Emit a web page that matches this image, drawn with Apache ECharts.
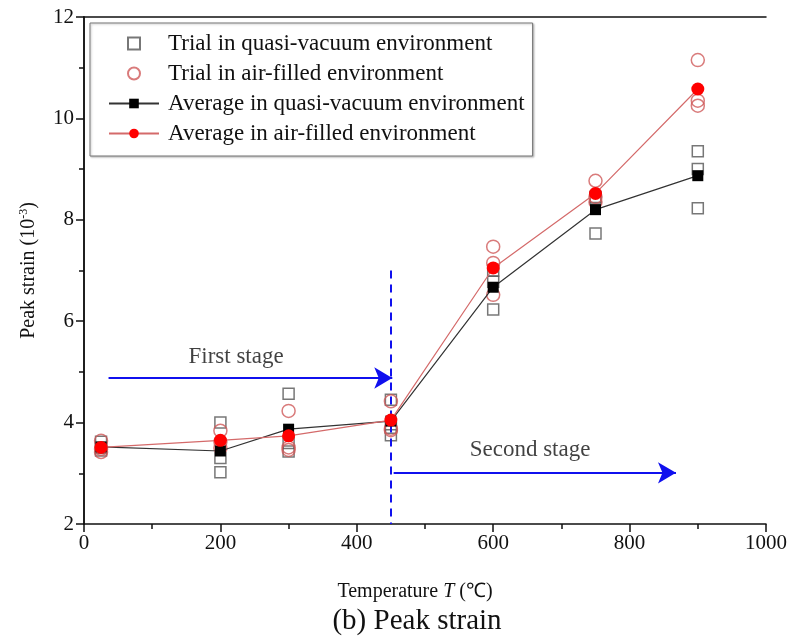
<!DOCTYPE html>
<html>
<head>
<meta charset="utf-8">
<script src="https://cdn.jsdelivr.net/npm/echarts@6/dist/echarts.min.js"></script>
<style>
  html, body { margin: 0; padding: 0; background: #fff; }
  #main { width: 788px; height: 638px; }
</style>
</head>
<body>
<div id="main"></div>
<script>
// temperatures (℃)
const temps = [25, 200, 300, 450, 600, 750, 900];

// three trials per temperature, peak strain (10^-3)
const vacuumTrials = [
  [3.62, 3.50, 3.45],
  [4.00, 3.30, 3.02],
  [4.57, 3.60, 3.43],
  [4.45, 3.90, 3.75],
  [6.23, 6.78, 7.00],
  [7.73, 8.42, 8.45],
  [9.35, 9.00, 8.23]
];
const airTrials = [
  [3.64, 3.48, 3.42],
  [3.84, 3.62, 3.50],
  [4.23, 3.51, 3.46],
  [4.42, 3.88, 3.85],
  [7.47, 7.15, 6.52],
  [8.77, 8.45, 8.35],
  [11.15, 10.35, 10.25]
];
const vacuumAvg = [3.52, 3.44, 3.87, 4.03, 6.67, 8.20, 8.87];
const airAvg = [3.51, 3.65, 3.74, 4.05, 7.05, 8.52, 10.58];

const seriesNames = [
  'Trial in quasi-vacuum environment',
  'Trial in air-filled environment',
  'Average in quasi-vacuum environment',
  'Average in air-filled environment'
];

// stage annotations
const stageLabels = ['First stage', 'Second stage'];
const stageLabelPos = [[223, 5.30], [654, 3.46]];
const stageArrows = [[[36, 4.88], [452, 4.88]], [[454, 3.01], [868, 3.01]]];
const stageDivider = [[450, 7.0], [450, 2.0]];

const serif = 'Liberation Serif';
const blue = '#1010ee';
const squareIcon = 'path://M0,0L10,0L10,10L0,10Z';

function trialPoints(trials) {
  let pts = [];
  trials.forEach((row, i) => {
    row.forEach(v => pts.push([temps[i], v]));
  });
  return pts;
}

function pairs(values) {
  return values.map((v, i) => [temps[i], v]);
}

let myChart = echarts.init(document.getElementById('main'));

let option = {
  animation: false,
  title: {
    text: '(b) Peak strain',
    left: 412,
    bottom: -3,
    textAlign: 'center',
    textStyle: { fontFamily: serif, fontSize: 29, fontWeight: 'normal', color: '#111' }
  },
  legend: {
    data: [
      { name: seriesNames[0], icon: squareIcon },
      { name: seriesNames[1] },
      { name: seriesNames[2] },
      { name: seriesNames[3] }
    ],
    orient: 'vertical',
    left: 90,
    top: 23,
    padding: [9, 8, 11, 18],
    itemWidth: 50,
    itemHeight: 12,
    itemGap: 7,
    symbolKeepAspect: true,
    borderColor: '#777',
    borderWidth: 1,
    shadowColor: 'rgba(0,0,0,0.25)',
    shadowBlur: 2,
    shadowOffsetX: 1,
    shadowOffsetY: 1,
    backgroundColor: '#fff',
    textStyle: { fontFamily: serif, fontSize: 23, color: '#111', padding: [0, 0, 0, 4] }
  },
  grid: { left: 84, right: 22, top: 17, bottom: 114, outerBoundsMode: 'none' },
  xAxis: [{
    type: 'value',
    min: 0,
    max: 1000,
    interval: 200,
    name: 'Temperature {i|T} (℃)',
    nameLocation: 'middle',
    nameGap: 58,
    nameTextStyle: {
      fontFamily: serif, fontSize: 20, color: '#111', padding: [0, 20, 0, 0],
      rich: { i: { fontFamily: serif, fontSize: 20, fontStyle: 'italic', color: '#111' } }
    },
    axisLine: { lineStyle: { color: '#111', width: 1.5 } },
    axisTick: { length: 8, lineStyle: { color: '#111', width: 1.5 } },
    minorTick: { show: true, splitNumber: 2, length: 5, lineStyle: { color: '#111', width: 1.5 } },
    splitLine: { show: false },
    axisLabel: { fontFamily: serif, fontSize: 21, color: '#111', margin: 9, formatter: v => String(v) }
  }, {
    type: 'value',
    position: 'top',
    min: 0,
    max: 1000,
    axisLine: { show: true, lineStyle: { color: '#111', width: 1.5 } },
    axisTick: { show: false },
    axisLabel: { show: false },
    splitLine: { show: false }
  }],
  yAxis: [{
    type: 'value',
    min: 2,
    max: 12,
    interval: 2,
    name: 'Peak strain ({n|10}{s|-3})',
    nameLocation: 'middle',
    nameGap: 44,
    nameTextStyle: {
      fontFamily: serif, fontSize: 20, color: '#111',
      rich: {
        n: { fontFamily: serif, fontSize: 20, color: '#111' },
        s: { fontFamily: serif, fontSize: 12, color: '#111', verticalAlign: 'top', padding: [0, 0, 10, 0] }
      }
    },
    axisLine: { show: true, lineStyle: { color: '#111', width: 1.5 } },
    axisTick: { show: true, length: 8, lineStyle: { color: '#111', width: 1.5 } },
    minorTick: { show: true, splitNumber: 2, length: 5, lineStyle: { color: '#111', width: 1.5 } },
    splitLine: { show: false },
    axisLabel: { fontFamily: serif, fontSize: 21, color: '#111', margin: 10 }
  }, {
    type: 'value',
    position: 'right',
    min: 2,
    max: 12,
    axisLine: { show: true, lineStyle: { color: '#111', width: 1.5 } },
    axisTick: { show: false },
    axisLabel: { show: false },
    splitLine: { show: false }
  }],
  series: [{
    name: seriesNames[0],
    type: 'scatter',
    symbol: 'rect',
    symbolSize: 11,
    z: 3,
    itemStyle: { color: 'rgba(0,0,0,0)', borderColor: '#555', borderWidth: 1.5 },
    data: trialPoints(vacuumTrials)
  }, {
    name: seriesNames[1],
    type: 'scatter',
    symbol: 'circle',
    symbolSize: 13,
    z: 4,
    itemStyle: { color: 'rgba(0,0,0,0)', borderColor: '#d05a5a', borderWidth: 1.5 },
    data: trialPoints(airTrials)
  }, {
    name: seriesNames[2],
    type: 'line',
    symbol: 'rect',
    symbolSize: 11,
    z: 5,
    lineStyle: { color: '#333', width: 1.2 },
    itemStyle: { color: '#000' },
    data: pairs(vacuumAvg)
  }, {
    name: seriesNames[3],
    type: 'line',
    symbol: 'circle',
    symbolSize: 13,
    z: 6,
    lineStyle: { color: '#d46a6a', width: 1.2 },
    itemStyle: { color: '#ff0000' },
    data: pairs(airAvg)
  }, {
    name: 'stage text',
    type: 'scatter',
    symbolSize: 0,
    silent: true,
    z: 7,
    label: {
      show: true,
      position: 'inside',
      formatter: '{b}',
      fontFamily: serif,
      fontSize: 23,
      color: '#111'
    },
    data: stageLabels.map((s, i) => ({ name: s, value: stageLabelPos[i] }))
  }, {
    name: 'stage marks',
    type: 'line',
    data: [],
    silent: true,
    z: 7,
    markLine: {
      silent: true,
      animation: false,
      label: { show: false },
      lineStyle: { color: blue, width: 2, type: 'solid' },
      data: stageArrows.map(a => [
        { coord: a[0], symbol: 'none' },
        { coord: a[1], symbol: 'arrow', symbolSize: [16, 18] }
      ]).concat([[
        { coord: stageDivider[0], symbol: 'none', lineStyle: { color: blue, width: 2, type: [8, 6] } },
        { coord: stageDivider[1], symbol: 'none' }
      ]])
    }
  }]
};

myChart.setOption(option);
</script>
</body>
</html>
